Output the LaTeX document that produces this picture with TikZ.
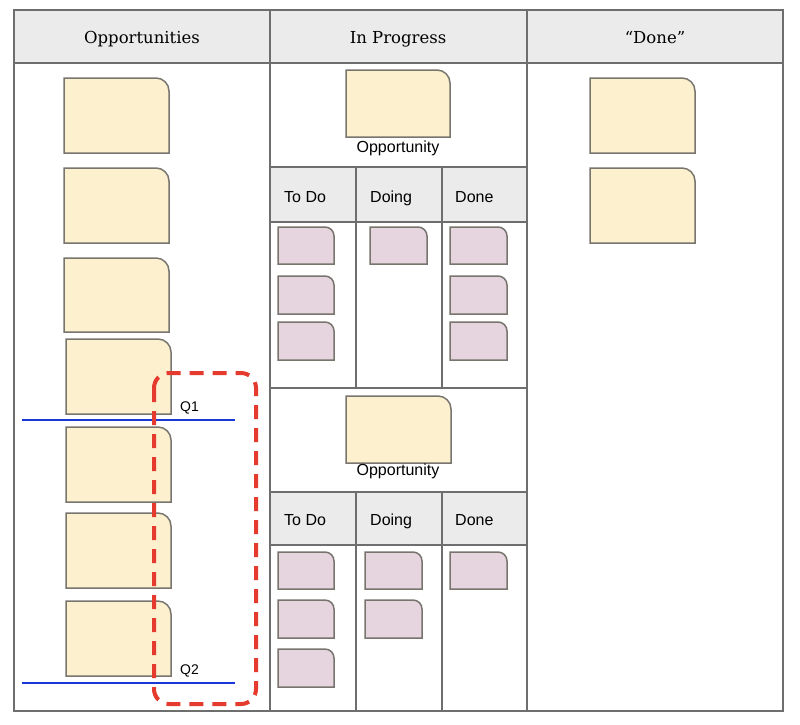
\documentclass[tikz,border=0pt]{standalone}
\usepackage{fontspec}
\setmainfont{DejaVu Serif}
\newfontfamily\cardfont{Liberation Sans}
\definecolor{headgray}{HTML}{EBEBEB}
\definecolor{gridgray}{HTML}{6E6E6E}
\definecolor{cardgray}{HTML}{77756E}
\definecolor{oppfill}{HTML}{FCF0CF}
\definecolor{taskfill}{HTML}{E6D5DE}
\definecolor{qblue}{HTML}{1838D8}
\definecolor{qred}{HTML}{E53A2E}
\tikzset{
  tablegrid/.style={draw=gridgray, line width=1.8pt},
  cardline/.style={draw=cardgray, line width=1.5pt},
  colhead/.style={font=\fontsize{16.5}{19}\selectfont, anchor=base, inner sep=0pt},
  subhead/.style={font=\cardfont\fontsize{16}{19}\selectfont, anchor=base west, inner sep=0pt},
  cardlabel/.style={font=\cardfont\fontsize{16}{19}\selectfont, anchor=base, inner sep=0pt},
  qlabel/.style={font=\cardfont\fontsize{14}{16}\selectfont, anchor=base west, inner sep=0pt},
  qline/.style={draw=qblue, line width=2.4pt},
}
% sticky card, top right corner rounded: left, top, right, bottom, radius, fill
\newcommand{\card}[6]{%
  \draw[cardline, fill=#6] (#1,#4) -- (#1,#2) -- (#3-#5,#2) .. controls (#3-0.448*#5,#2) and (#3,#2+0.448*#5) .. (#3,#2+#5) -- (#3,#4) -- cycle;}
\begin{document}
\begin{tikzpicture}[x=1pt,y=-1pt]
  \useasboundingbox (0,0) rectangle (800,724);
  \fill[white] (0,0) rectangle (800,724);
  % header fills
  \fill[headgray] (14,10) rectangle (783,63);
  \fill[headgray] (270,167) rectangle (527,222);
  \fill[headgray] (270,492) rectangle (527,545);
  % table lines
  \draw[tablegrid] (14,10) rectangle (783,711);
  \draw[tablegrid] (14,63) -- (783,63);
  \draw[tablegrid] (270,10) -- (270,711);
  \draw[tablegrid] (527,10) -- (527,711);
  \foreach \y in {167,222,388,492,545}
    \draw[tablegrid] (270,\y) -- (527,\y);
  \foreach \x in {356,442} {
    \draw[tablegrid] (\x,167) -- (\x,388);
    \draw[tablegrid] (\x,492) -- (\x,711);
  }
  % column titles
  \node[colhead] (hopp) at (142,43) {Opportunities};
  \node[colhead] (hprog) at (398,43) {In Progress};
  \node[colhead] (hdone) at (655,43) {“Done”};
  \node[subhead] (todoA) at (284,202) {To Do};
  \node[subhead] (doingA) at (370,202) {Doing};
  \node[subhead] (doneA) at (455,202) {Done};
  \node[subhead] (todoB) at (284,525) {To Do};
  \node[subhead] (doingB) at (370,525) {Doing};
  \node[subhead] (doneB) at (455,525) {Done};
  % opportunity cards
  \foreach \xa/\ya/\xb/\yb in {64/78/169/153, 64/168/169/243, 64/258/169/332,
      66/339/171/414, 66/427/171/502, 66/513/171/588, 66/601/171/676,
      346/70/450/137, 346/396/451/463, 590/78/695/153, 590/168/695/243}
    \card{\xa}{\ya}{\xb}{\yb}{13}{oppfill};
  \node[cardlabel] (oppA) at (398,152) {Opportunity};
  \node[cardlabel] (oppB) at (398,475) {Opportunity};
  % task cards
  \foreach \xa/\ya/\xb/\yb in {278/227/334/264, 278/276/334/314, 278/322/334/360,
      370/227/427/264, 450/227/507/264, 450/276/507/314, 450/322/507/360,
      278/552/334/589, 278/600/334/638, 278/649/334/687,
      365/552/422/589, 365/600/422/638, 450/552/507/589}
    \card{\xa}{\ya}{\xb}{\yb}{9}{taskfill};
  % quarter lines
  \draw[qline] (22,420) -- (235,420);
  \draw[qline] (22,683) -- (235,683);
  \node[qlabel] (qone) at (180,411) {Q1};
  \node[qlabel] (qtwo) at (180,674) {Q2};
  \draw[qred, line width=4pt, dash pattern=on 14pt off 9pt, rounded corners=15pt]
    (154,373) rectangle (256,704);
\end{tikzpicture}
\end{document}
